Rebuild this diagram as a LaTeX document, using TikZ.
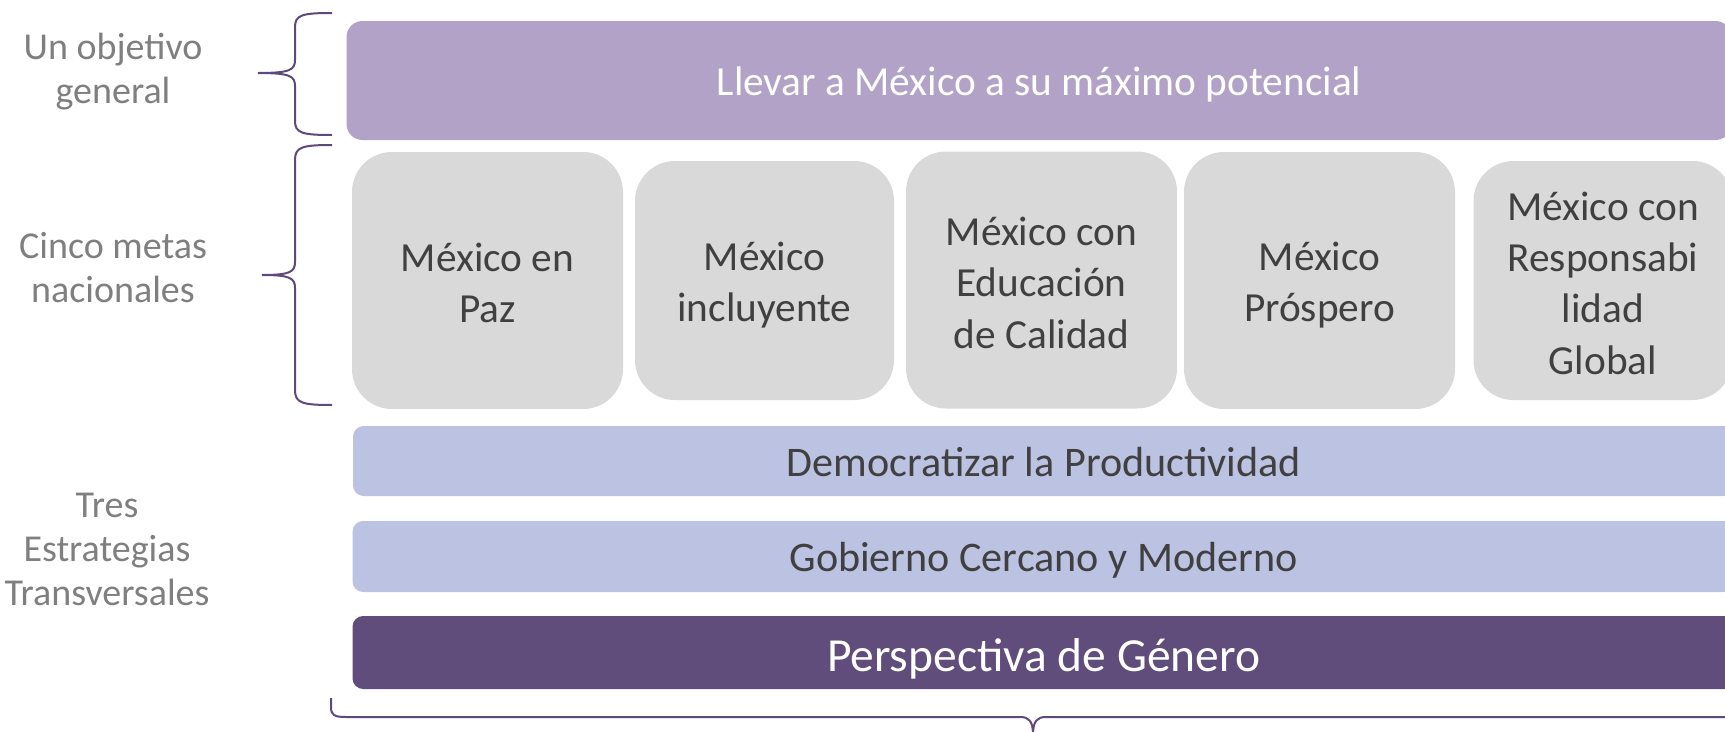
\documentclass[tikz,border=0pt]{standalone}
\usepackage{fontspec}
\setmainfont{Carlito}
\usepackage{tikz}

\definecolor{objpurple}{RGB}{178,162,199}
\definecolor{metagray}{RGB}{217,217,217}
\definecolor{estrblue}{RGB}{188,194,225}
\definecolor{genpurple}{RGB}{96,77,124}
\definecolor{bracepurple}{RGB}{94,72,124}
\definecolor{lblgray}{RGB}{127,127,127}
\definecolor{txtgray}{RGB}{64,64,64}

% struts so that every box centres its text the same way
\newcommand\boxstrut{\rule[-3pt]{0pt}{31pt}}
\newcommand\barstrut{\rule[-8pt]{0pt}{38.5pt}}
\newcommand\genstrut{\rule[-8pt]{0pt}{44.2pt}}

\begin{document}
\begin{tikzpicture}[x=0.75pt,y=0.75pt,yscale=-1,xscale=1,
  lbl/.style={text=lblgray,align=center,inner sep=0pt,font=\fontsize{28.5}{33}\selectfont},
  metabig/.style={fill=metagray,rounded corners=30pt,text=txtgray,align=center,inner sep=0pt,
    minimum width=203.25pt,minimum height=192.75pt,font=\fontsize{31}{38.5}\selectfont},
  metasmall/.style={metabig,minimum width=194.25pt,minimum height=179.25pt},
  estrbar/.style={fill=estrblue,rounded corners=8pt,text=txtgray,inner sep=0pt,
    minimum width=1036.5pt,minimum height=52.5pt,font=\fontsize{31.6}{38}\selectfont},
  brace/.style={draw=bracepurple,line width=1.5pt}]
\useasboundingbox (0,0) rectangle (1725,732);
\clip (0,0) rectangle (1725,732);

%Rounded Rect: objetivo
\node [fill=objpurple,rounded corners=12pt,text=white,inner sep=0pt,minimum width=1038.75pt,minimum height=89.25pt,font=\fontsize{31}{38}\selectfont] (objetivo) at (1039,80.5) {\barstrut Llevar a México a su máximo potencial};

%Rounded Rect: metas
\node [metabig] (meta1) at (487.5,280.5) {\boxstrut México en\\Paz\boxstrut};
\node [metasmall] (meta2) at (764.5,280.5) {\boxstrut México\\incluyente\boxstrut};
\node [metabig] (meta3) at (1041.5,280) {\boxstrut México con\\Educación\\de Calidad\boxstrut};
\node [metabig] (meta4) at (1319.5,280.5) {\boxstrut México\\Próspero\boxstrut};
\node [metasmall] (meta5) at (1603,280.5) {\boxstrut México con\\Responsabi\\lidad\\Global\boxstrut};

%Rounded Rect: estrategias
\node [estrbar] (democ) at (1044,461) {\barstrut Democratizar la Productividad};
\node [estrbar,minimum height=53.25pt] (gobierno) at (1043.5,556.5) {\barstrut Gobierno Cercano y Moderno};
\node [estrbar,fill=genpurple,text=white,minimum height=54.75pt,font=\fontsize{35.6}{42}\selectfont] (genero) at (1043.5,652.5) {\genstrut Perspectiva de Género};

%Text labels
\node [lbl] (lblobj) at (113,72) {Un objetivo\\general};
\node [lbl] (lblmetas) at (113,268) {Cinco metas\\nacionales};
\node [lbl] (lblestr) at (107,549) {Tres\\Estrategias\\Transversales};

%Curve Lines: braces
\draw [brace] (332,13) .. controls (302,13) and (295,15) .. (295,27) -- (295,60) .. controls (295,70) and (290,73) .. (258,73) .. controls (290,73) and (295,76) .. (295,86) -- (295,121) .. controls (295,133) and (302,135) .. (332,135) ;
\draw [brace] (332,145) .. controls (302,145) and (295,147) .. (295,160) -- (295,262) .. controls (295,272) and (290,275) .. (262,275) .. controls (290,275) and (295,278) .. (295,288) -- (295,390) .. controls (295,403) and (302,405) .. (332,405) ;
\draw [brace] (331,698) -- (331,707) .. controls (331,715) and (334,717) .. (346,717) -- (1020,717) .. controls (1029,717) and (1033,721) .. (1033,735) .. controls (1033,721) and (1037,717) .. (1046,717) -- (1760,717) ;
\end{tikzpicture}
\end{document}
